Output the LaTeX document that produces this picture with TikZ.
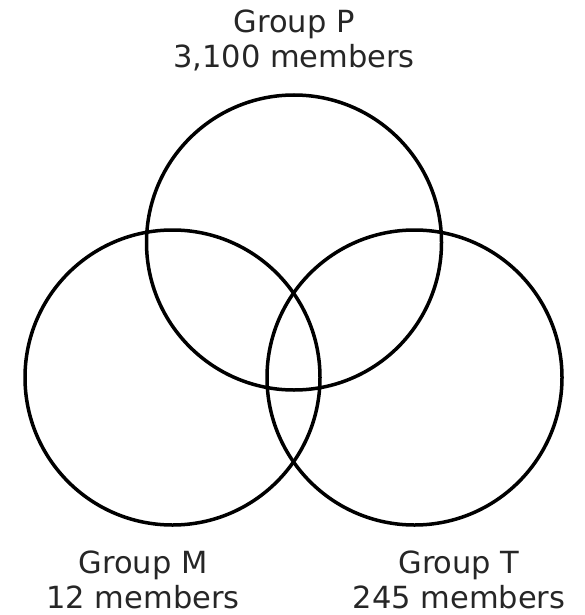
\documentclass[tikz,border=0pt]{standalone}
\usepackage{fontspec}
\setmainfont{DejaVu Sans}
\usepackage{tikz}
\usetikzlibrary{positioning}
\usepackage{xcolor}
\definecolor{ink}{HTML}{000000}

\begin{document}
\begin{tikzpicture}[x=1pt, y=-1pt,
    group/.style={circle, draw=ink, line width=3.5pt, minimum size=295pt, inner sep=0pt, outer sep=0pt},
    grouplabel/.style={anchor=base, inner sep=0pt, text=ink!85, font=\fontsize{30.5}{35}\selectfont}]
    \useasboundingbox (0, 0) rectangle (584, 615);

    \node[group] (grpP) at (294, 242.5) {};
    \node[group] (grpM) at (172.5, 377.5) {};
    \node[group] (grpT) at (414.5, 377.5) {};

    \node[grouplabel] (nameP) at (294, 33) {Group P};
    \node[grouplabel] (sizeP) at (294, 68) {3,100 members};
    \node[grouplabel] (nameM) at (143, 573) {Group M};
    \node[grouplabel] (sizeM) at (143, 608) {12 members};
    \node[grouplabel] (nameT) at (459, 573) {Group T};
    \node[grouplabel] (sizeT) at (459, 608) {245 members};
\end{tikzpicture}
\end{document}
